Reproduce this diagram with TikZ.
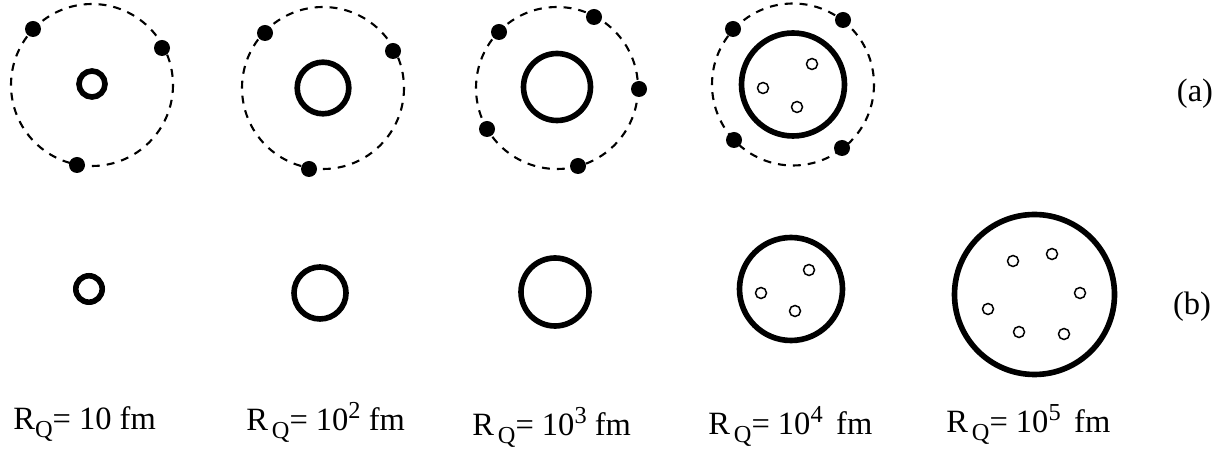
\documentclass[tikz,border=0pt]{standalone}
\usepackage{fontspec}
\setmainfont{Liberation Serif}
\usepackage{tikz}
\usetikzlibrary{positioning}

\tikzset{
  orbit/.style={line width=1.2pt, dash pattern=on 4.5pt off 4pt},
  core/.style={line width=3.2pt},
  bubble/.style={line width=0.85pt},
  caption/.style={font=\fontsize{18.5}{22}\selectfont, inner sep=0pt}
}
\newcommand{\rqlabel}[2]{R\kern#1em\raisebox{-0.5ex}{\scalebox{0.75}{Q}}= 10#2 fm}
\newcommand{\expo}[1]{\raisebox{0.85ex}{\scalebox{0.75}{#1}}}

\begin{document}
\begin{tikzpicture}[x=0.02cm, y=-0.02cm]
  \useasboundingbox (0,0) rectangle (1223,455);

  % (a) atoms with electron clouds
  \coordinate (a1) at (92,85);
  \coordinate (a2) at (323,88);
  \coordinate (a3) at (557,88);
  \coordinate (a4) at (793,84.5);
  \foreach \c in {a1,a2,a3,a4}
    \draw[orbit] (\c) circle (81);
  \draw[core] (92,84) circle (13);
  \draw[core] (323,88) circle (25.8);
  \draw[core] (557,87) circle (33.5);
  \draw[core] (a4) circle (51.5);
  \foreach \p in {(812,64),(763,88),(797,107)}
    \draw[bubble] \p circle (5.5);
  \foreach \p in {(33,29),(162,48),(77,165),
                  (265,33),(393,51),(309,169),
                  (499,32),(594,17),(639,89),(487,129),(578,166),
                  (733,29),(843,20),(734,140),(842,148)}
    \fill \p circle (8);

  % (b) bare quark nuggets
  \draw[core] (89,289) circle (13.2);
  \draw[core] (320,293) circle (26);
  \draw[core] (555,292) circle (34);
  \draw[core] (791,289) circle (51.5);
  \draw[core] (1034.5,294.5) circle (80);
  \foreach \p in {(809,270),(761,293),(795,311),
                  (1013,261),(1052,254),(1080,293),(988,309),(1019,332),(1064,334)}
    \draw[bubble] \p circle (5.5);

  \node[caption] (rowa) at (1195,94) {(a)};
  \node[caption] (rowb) at (1192,307) {(b)};

  % radii
  \node[caption, anchor=base west] (r1) at (13,430) {\rqlabel{0}{}};
  \node[caption, anchor=base west] (r2) at (246,431) {\rqlabel{0.12}{\expo{2}}};
  \node[caption, anchor=base west] (r3) at (472,436) {\rqlabel{0.12}{\expo{3}}};
  \node[caption, anchor=base west] (r4) at (708,435) {\rqlabel{0.12}{\expo{4}\,}};
  \node[caption, anchor=base west] (r5) at (946,433) {\rqlabel{0.12}{\expo{5}\,}};
\end{tikzpicture}
\end{document}
